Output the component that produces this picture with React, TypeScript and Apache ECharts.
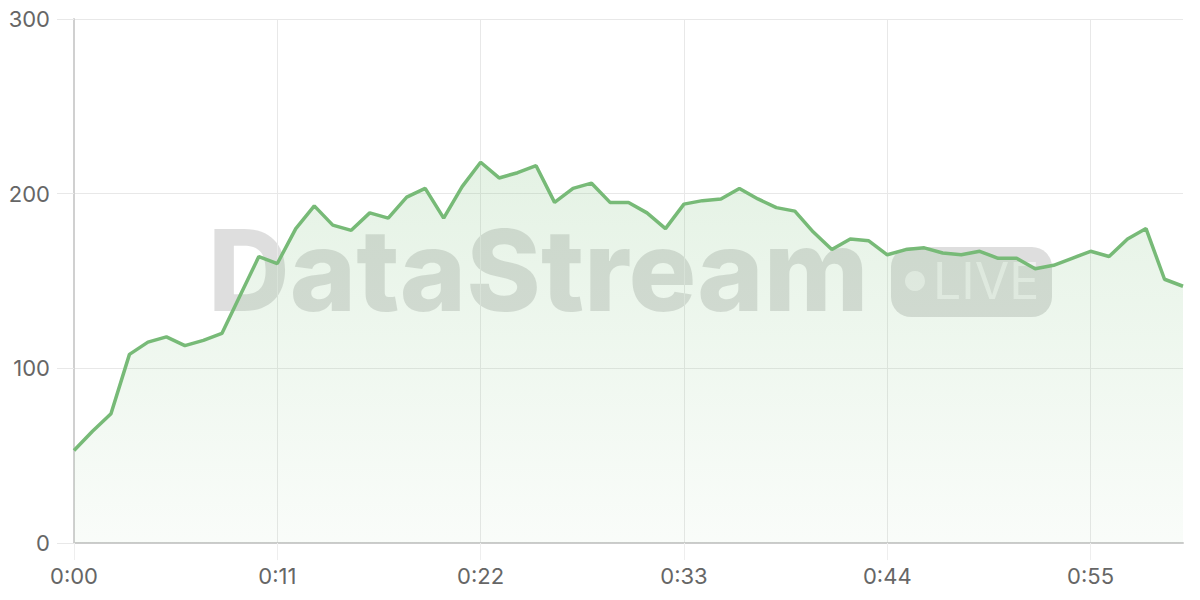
import React, { useEffect, useRef } from "react";
import * as echarts from "echarts";

const values: number[] = [
  53, 64, 74, 108, 115, 118, 113, 116, 120, 142,
  164, 160, 180, 193, 182, 179, 189, 186, 198, 203,
  186, 204, 218, 209, 212, 216, 195, 203, 206, 195,
  195, 189, 180, 194, 196, 197, 203, 197, 192, 190,
  178, 168, 174, 173, 165, 168, 169, 166, 165, 167,
  163, 163, 157, 159, 163, 167, 164, 174, 180, 151,
  147,
];

const timeLabels: string[] = values.map((_, i) => {
  const m = Math.floor(i / 60);
  const s = i % 60;
  return `${m}:${s < 10 ? "0" : ""}${s}`;
});

const yTicks = { min: 0, max: 300, interval: 100 };
const watermarkText = "DataStream";
const badgeText = "LIVE";

export default function App() {
  const ref = useRef<HTMLDivElement>(null);
  useEffect(() => {
    if (!ref.current) return;
    const chart = echarts.init(ref.current, undefined, { renderer: "svg" });
    const font = "Inter, 'Liberation Sans', sans-serif";
    chart.setOption({
      animation: false,
      backgroundColor: "#ffffff",
      grid: { left: 74, right: 17, top: 19, bottom: 57, containLabel: false },
      graphic: [
        {
          type: "text",
          z: -10,
          left: 208,
          top: 213,
          style: {
            text: watermarkText,
            font: "800 113px Inter, 'Liberation Sans', sans-serif",
            fill: "rgba(0,0,0,0.13)",
          },
        },
        {
          type: "rect",
          z: -10,
          shape: { x: 891, y: 247, width: 161, height: 70, r: 20 },
          style: { fill: "rgba(0,0,0,0.13)" },
        },
        {
          type: "circle",
          z: -9,
          shape: { cx: 915, cy: 281, r: 10 },
          style: { fill: "rgba(255,255,255,0.55)" },
        },
        {
          type: "text",
          z: -9,
          left: 933,
          top: 256,
          style: {
            text: badgeText,
            font: "50px Inter, 'Liberation Sans', sans-serif",
            fill: "rgba(255,255,255,0.55)",
          },
        },
      ],
      xAxis: {
        type: "category",
        data: timeLabels,
        boundaryGap: false,
        axisLine: { lineStyle: { color: "#cccccc", width: 2 } },
        axisTick: {
          show: true,
          interval: 10,
          length: 17,
          lineStyle: { color: "#eeeeee", width: 1 },
        },
        axisLabel: {
          interval: 10,
          margin: 22,
          color: "#666666",
          fontSize: 22,
          fontFamily: font,
        },
        splitLine: { show: true, interval: 10, lineStyle: { color: "#e8e8e8", width: 1 } },
      },
      yAxis: {
        type: "value",
        min: yTicks.min,
        max: yTicks.max,
        interval: yTicks.interval,
        axisLine: { show: true, lineStyle: { color: "#d0d0d0", width: 2 } },
        axisTick: { show: true, length: 17, lineStyle: { color: "#e8e8e8", width: 1 } },
        axisLabel: {
          margin: 24,
          color: "#666666",
          fontSize: 22,
          fontFamily: font,
        },
        splitLine: { show: true, lineStyle: { color: "#e8e8e8", width: 1 } },
      },
      series: [
        {
          type: "line",
          data: values,
          symbol: "none",
          smooth: false,
          lineStyle: { color: "#77ba77", width: 3.5 },
          areaStyle: {
            color: new echarts.graphic.LinearGradient(0, 0, 0, 1, [
              { offset: 0, color: "rgba(120,190,120,0.28)" },
              { offset: 1, color: "rgba(120,190,120,0.06)" },
            ]),
          },
        },
      ],
    });
    return () => chart.dispose();
  }, []);
  return <div ref={ref} style={{ width: 1200, height: 600, margin: -8 }} />;
}
